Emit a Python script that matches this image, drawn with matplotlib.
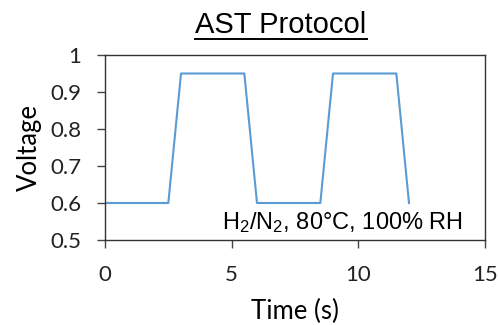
import matplotlib
matplotlib.use("Agg")
import matplotlib.pyplot as plt
from matplotlib.lines import Line2D

plt.rcParams["mathtext.fontset"] = "custom"
plt.rcParams["mathtext.rm"] = "Liberation Sans"
plt.rcParams["mathtext.it"] = "Liberation Sans"
plt.rcParams["mathtext.bf"] = "Liberation Sans"

time_s = [0, 2.5, 3, 5.5, 6, 8.5, 9, 11.5, 12]
voltage = [0.6, 0.6, 0.95, 0.95, 0.6, 0.6, 0.95, 0.95, 0.6]
x_ticks = [0, 5, 10, 15]
y_ticks = [0.5, 0.6, 0.7, 0.8, 0.9, 1.0]
y_tick_labels = ["0.5", "0.6", "0.7", "0.8", "0.9", "1"]

fig = plt.figure(figsize=(4.98, 3.25), dpi=100)
ax = fig.add_axes([105/498, 1-240/325, 380/498, 185/325])
ax.plot(time_s, voltage, color="#5B9BD5", lw=1.5)
ax.set_xlim(0, 15)
ax.set_ylim(0.5, 1.0)
ax.set_xticks(x_ticks)
ax.set_yticks(y_ticks)
ax.set_yticklabels(y_tick_labels)
for lab in ax.get_xticklabels() + ax.get_yticklabels():
    lab.set_fontfamily("Lato")
    lab.set_fontsize(16)
    lab.set_color("#222222")
ax.tick_params(direction="out", length=6, width=1, color="#444444")
ax.tick_params(axis="y", pad=11)
ax.tick_params(axis="x", pad=12)
for s in ax.spines.values():
    s.set_color("#333333")
    s.set_linewidth(1)

ax.set_xlabel("Time (s)", family="Lato", fontsize=18.5, labelpad=10)
ax.set_ylabel("Voltage", family="Lato", fontsize=18.5, labelpad=6)

ax.text(0.942, 0.059, r"H$_2$/N$_2$, 80°C, 100% RH", transform=ax.transAxes,
        ha="right", va="baseline", family="Liberation Sans", fontsize=17)

t = fig.text(281/498, 1-33/325, "AST Protocol", ha="center", va="baseline",
             family="Liberation Sans", fontsize=21)
fig.canvas.draw()
bb = t.get_window_extent()
inv = fig.transFigure.inverted()
(x0, y0), (x1, y1) = inv.transform([(bb.x0, bb.y0), (bb.x1, bb.y0)])
uy = 1 - 38.5/325
fig.add_artist(Line2D([x0, x1], [uy, uy], color="black", lw=1.4, transform=fig.transFigure))

fig.savefig("out.png", dpi=100)
